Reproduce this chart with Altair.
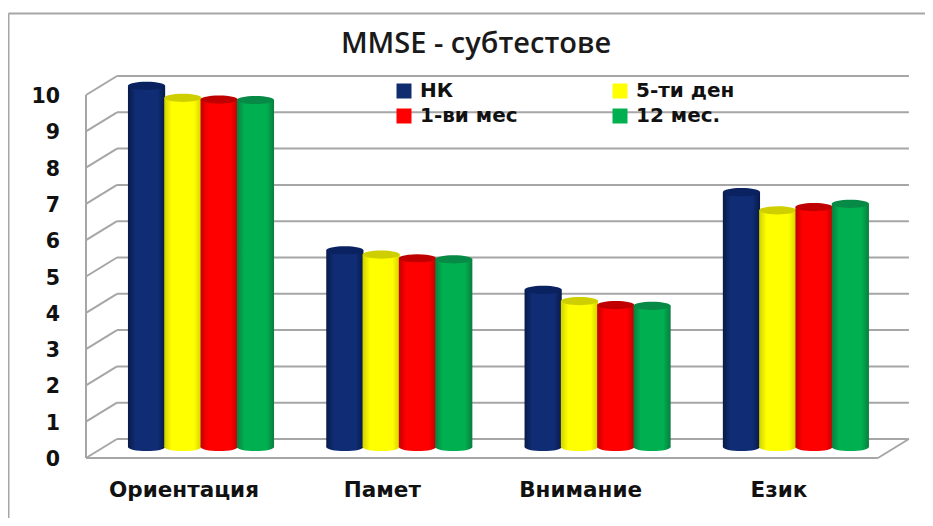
import altair as alt
import pandas as pd

CATEGORIES = ["Ориентация", "Памет", "Внимание", "Език"]
SERIES = ["НК", "5-ти ден", "1-ви мес", "12 мес."]
NK = [9.95, 5.42, 4.33, 7.02]
DAY5 = [9.62, 5.3, 4.02, 6.52]
MONTH1 = [9.57, 5.2, 3.91, 6.61]
MONTH12 = [9.56, 5.17, 3.89, 6.7]
TICKS = list(range(0, 11))
EDGE = ["#081a48", "#d2d200", "#c40000", "#0a7d40"]
MID = ["#0f2c74", "#ffff00", "#ff0000", "#00b050"]
CAP = ["#0a2260", "#cfcf00", "#c00000", "#078a45"]
SWATCH = ["#0f2c6e", "#ffff00", "#ff0000", "#00b050"]
VALUES = [NK, DAY5, MONTH1, MONTH12]

W, H = 917, 510
PX_X = 198.3
PX_Y = 36.3
X_DOM = [-193 / PX_X, (W - 193) / PX_X]
Y_DOM = [(439 - H) / PX_Y, 439 / PX_Y]
xs = alt.Scale(domain=X_DOM, range=[0, W], nice=False, zero=False)
ys = alt.Scale(domain=Y_DOM, range=[H, 0], nice=False, zero=False)
STEP = 36.3 / PX_X
HALF = 18.6 / PX_X
WALL_DY = 8 / PX_Y
FRONT_DY = -11 / PX_Y
LEFT_FRONT = -115 / PX_X
LEFT_BACK = -84 / PX_X
RIGHT_FRONT = 3 + 82 / PX_X
RIGHT_BACK = 3 + 113 / PX_X
GRID = "#a6a6a6"
ELLIPSE = "M -1 0 A 1 0.22 0 1 0 1 0 A 1 0.22 0 1 0 -1 0 Z"
SIZE = (2 * 18.6) ** 2


def X(n):
    return alt.X(n, type="quantitative", scale=xs, axis=None)


def Y(n):
    return alt.Y(n, type="quantitative", scale=ys, axis=None)


grid = pd.DataFrame(
    {
        "x": [LEFT_BACK] * len(TICKS),
        "x2": [RIGHT_BACK] * len(TICKS),
        "xf": [LEFT_FRONT] * len(TICKS),
        "y": [t + WALL_DY for t in TICKS],
        "yf": [t + FRONT_DY for t in TICKS],
    }
)
layers = [
    alt.Chart(grid).mark_rule(color=GRID, strokeWidth=2).encode(x=X("x"), x2="x2", y=Y("y")),
    alt.Chart(grid).mark_rule(color=GRID, strokeWidth=2).encode(x=X("xf"), x2="x", y=Y("yf"), y2="y"),
    alt.Chart(pd.DataFrame({"x": [LEFT_FRONT], "y": [FRONT_DY], "y2": [10 + FRONT_DY]}))
    .mark_rule(color=GRID, strokeWidth=2)
    .encode(x=X("x"), y=Y("y"), y2="y2"),
    alt.Chart(pd.DataFrame({"x": [LEFT_FRONT], "x2": [RIGHT_FRONT], "y": [FRONT_DY]}))
    .mark_rule(color=GRID, strokeWidth=2)
    .encode(x=X("x"), x2="x2", y=Y("y")),
    alt.Chart(pd.DataFrame({"x": [RIGHT_FRONT], "x2": [RIGHT_BACK], "y": [FRONT_DY], "y2": [WALL_DY]}))
    .mark_rule(color=GRID, strokeWidth=2)
    .encode(x=X("x"), x2="x2", y=Y("y"), y2="y2"),
    # picture frame
    alt.Chart(pd.DataFrame({"a": [0]}))
    .mark_rule(color=GRID, strokeWidth=2)
    .encode(x=alt.value(0.5), y=alt.value(5.5), y2=alt.value(H)),
    alt.Chart(pd.DataFrame({"a": [0]}))
    .mark_rule(color=GRID, strokeWidth=2)
    .encode(x=alt.value(0.5), x2=alt.value(W), y=alt.value(5.5)),
]

# cylinders, series by series within each group
for g, cat in enumerate(CATEGORIES):
    for k, name in enumerate(SERIES):
        c = g + (k - 1.5) * STEP
        d = pd.DataFrame(
            {"cat": [cat], "series": [name], "c": [c], "x": [c - HALF], "x2": [c + HALF], "v": [VALUES[k][g]], "z": [0]}
        )
        grad = alt.LinearGradient(
            gradient="linear",
            stops=[
                alt.GradientStop(color=EDGE[k], offset=0),
                alt.GradientStop(color=MID[k], offset=0.2),
                alt.GradientStop(color=MID[k], offset=0.8),
                alt.GradientStop(color=EDGE[k], offset=1),
            ],
            x1=0,
            x2=1,
            y1=0,
            y2=0,
        )
        base = alt.Chart(d)
        layers += [
            base.mark_point(shape=ELLIPSE, size=SIZE, filled=True, fill=grad, opacity=1, strokeWidth=0).encode(
                x=X("c"), y=Y("z")
            ),
            base.mark_bar(fill=grad, cornerRadius=0).encode(x=X("x"), x2="x2", y=Y("z"), y2="v"),
            base.mark_point(shape=ELLIPSE, size=SIZE, filled=True, fill=CAP[k], opacity=1, strokeWidth=0).encode(
                x=X("c"), y=Y("v")
            ),
        ]

FONT = "DejaVu Sans"
# value labels
layers.append(
    alt.Chart(pd.DataFrame({"t": TICKS, "y": [t + FRONT_DY for t in TICKS]}))
    .mark_text(font=FONT, fontWeight="bold", fontSize=20.5, align="right", baseline="middle", color="#111111", dy=2)
    .encode(x=alt.value(52), y=Y("y"), text="t:N")
)
# category labels
layers.append(
    alt.Chart(pd.DataFrame({"g": [0, 1, 2, 3], "cat": CATEGORIES}))
    .mark_text(font=FONT, fontWeight="bold", fontSize=21.5, align="center", baseline="middle", color="#111111", dx=-17)
    .encode(x=X("g"), y=alt.value(483), text="cat:N")
)
# title
layers.append(
    alt.Chart(pd.DataFrame({"t": ["MMSE - субтестове"]}))
    .mark_text(font="Open Sans", fontWeight=600, fontSize=29, align="center", baseline="middle", color="#1a1a1a")
    .encode(x=alt.value(468), y=alt.value(36), text="t:N")
)
# legend
leg_x = [388, 604, 388, 604]
leg_y = [83, 83, 108, 108]
leg = pd.DataFrame({"x": leg_x, "y": leg_y, "name": SERIES, "col": SWATCH})
for _, r in leg.iterrows():
    one = pd.DataFrame({"name": [r["name"]]})
    layers.append(
        alt.Chart(one)
        .mark_square(size=225, color=r["col"], opacity=1)
        .encode(x=alt.value(int(r["x"]) + 8), y=alt.value(int(r["y"])))
    )
    layers.append(
        alt.Chart(one)
        .mark_text(font=FONT, fontWeight="bold", fontSize=20, align="left", baseline="middle", color="#111111")
        .encode(x=alt.value(int(r["x"]) + 24), y=alt.value(int(r["y"])), text="name:N")
    )

chart = (
    alt.layer(*layers)
    .properties(width=W, height=H, padding=0, autosize=alt.AutoSizeParams(type="none"), background="white")
    .configure_view(stroke=None)
)
chart.save("out.html", embed_options={"renderer": "svg", "actions": False})
